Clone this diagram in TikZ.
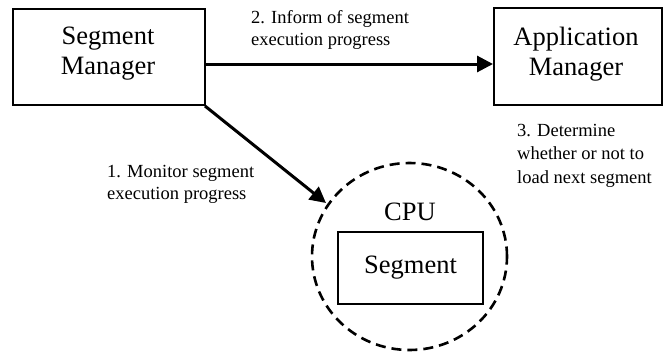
\documentclass[tikz,border=0pt]{standalone}
\usepackage{fontspec}
\setmainfont{Liberation Serif}
\usetikzlibrary{arrows.meta,shapes.geometric}
\begin{document}
\begin{tikzpicture}[x=1pt,y=-1pt,
  bigbox/.style={draw,line width=2pt,inner sep=0pt},
  bigtxt/.style={font=\fontsize{26.5}{30}\selectfont,align=center,inner sep=0pt},
  smalltxt/.style={font=\fontsize{18.5}{22}\selectfont,align=left,inner sep=0pt,anchor=base west},
  conn/.style={line width=3pt,-{Triangle[length=16pt,width=16pt]}}]
\useasboundingbox (0,0) rectangle (666,354);
\node[bigbox,minimum width=192pt,minimum height=96pt] (sm) at (109,57) {};
\node[bigtxt] (smt) at (108,54) {Segment\\Manager};
\node[bigbox,minimum width=168pt,minimum height=97pt] (am) at (578,56.5) {};
\node[bigtxt] (amt) at (576,54) {Application\\Manager};
\node[draw,ellipse,line width=2.6pt,dash pattern=on 10pt off 6pt,minimum width=195pt,minimum height=187pt,inner sep=0pt] (cpu) at (409.5,256.5) {};
\node[font=\fontsize{26.5}{30}\selectfont,inner sep=0pt] (cput) at (410,212) {CPU};
\node[bigbox,minimum width=145pt,minimum height=72pt] (seg) at (410.5,268) {};
\node[bigtxt] (segt) at (seg.center) {Segment};
\coordinate (s1) at (sm.east |- 0,64);
\coordinate (t1) at (am.west |- 0,64);
\draw[conn] (s1) -- (t1);
\coordinate (s2) at (205,106);
\coordinate (t2) at (326,203);
\draw[conn] (s2) -- (t2);
\node[smalltxt] (l2) at (251,45) {2. Inform of segment\\execution progress};
\node[smalltxt] (l1) at (107,199) {1. Monitor segment\\execution progress};
\node[smalltxt,font=\fontsize{18.5}{23.5}\selectfont] (l3) at (517,183) {3. Determine\\whether or not to\\load next segment};
\end{tikzpicture}
\end{document}
